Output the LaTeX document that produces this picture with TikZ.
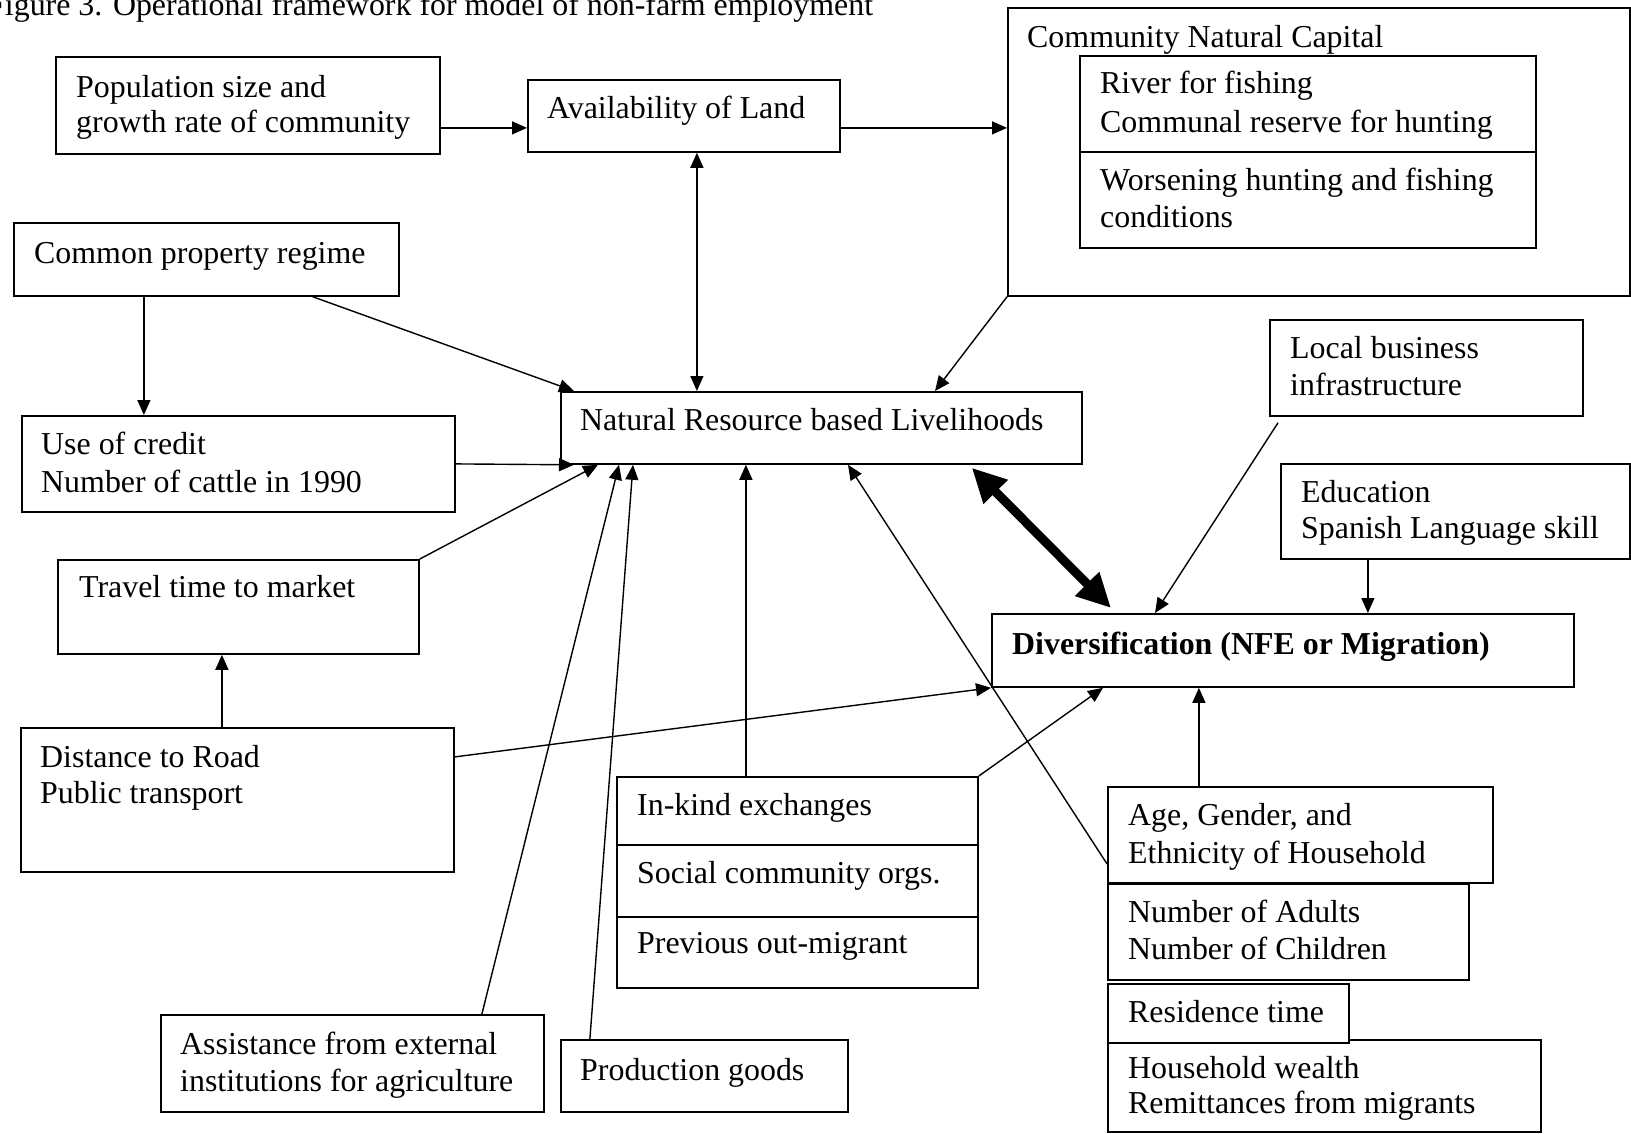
\documentclass[tikz,border=0pt]{standalone}
\usepackage{fontspec}
\setmainfont{Liberation Serif}
\usetikzlibrary{arrows.meta}
\newcommand\myst{\rule{0pt}{25pt}}
\begin{document}
\begin{tikzpicture}[x=1pt,y=-1pt,
  box/.style={draw, line width=1.8pt, anchor=north west, inner sep=0pt, fill=white},
  txt/.style={anchor=north west, inner sep=0pt, align=left, font=\fontsize{31.9}{37}\selectfont},
  arr/.style={line width=1.4pt, -{Triangle[length=15pt,width=13pt]}},
  arrb/.style={line width=1.4pt, {Triangle[length=15pt,width=13pt]}-{Triangle[length=15pt,width=13pt]}},
  thick2/.style={line width=9pt, {Triangle[length=34pt,width=32pt]}-{Triangle[length=34pt,width=32pt]}}]
\useasboundingbox (0,0) rectangle (1631,1133);
\clip (0,0) rectangle (1631,1133);

\node[anchor=base west, inner sep=0pt, font=\fontsize{31.9}{37}\selectfont] (title) at (-13,15) {Figure 3. Operational framework for model of non-farm employment};

% boxes
\node[box, minimum width=384pt, minimum height=97pt] (pop) at (55,56) {};
\node[box, minimum width=312pt, minimum height=72pt] (avail) at (527,79) {};
\node[box, minimum width=622pt, minimum height=288pt] (cnc) at (1007,7) {};
\node[box, minimum width=456pt, minimum height=96pt] (river) at (1079,55) {};
\node[box, minimum width=456pt, minimum height=96pt] (worsen) at (1079,151) {};
\node[box, minimum width=385pt, minimum height=73pt] (common) at (13,222) {};
\node[box, minimum width=433pt, minimum height=96pt] (credit) at (21,415) {};
\node[box, minimum width=521pt, minimum height=72pt] (nr) at (560,391) {};
\node[box, minimum width=361pt, minimum height=94pt] (travel) at (57,559) {};
\node[box, minimum width=313pt, minimum height=96pt] (local) at (1269,319) {};
\node[box, minimum width=349pt, minimum height=95pt] (edu) at (1280,463) {};
\node[box, minimum width=582pt, minimum height=73pt] (div) at (991,613) {};
\node[box, minimum width=433pt, minimum height=144pt] (dist) at (20,727) {};
\node[box, minimum width=361pt, minimum height=68pt] (inkind) at (616,776) {};
\node[box, minimum width=361pt, minimum height=72pt] (social) at (616,844) {};
\node[box, minimum width=361pt, minimum height=71pt] (prev) at (616,916) {};
\node[box, minimum width=385pt, minimum height=96pt] (age) at (1107,786) {};
\node[box, minimum width=361pt, minimum height=96pt] (number) at (1107,883) {};
\node[box, minimum width=433pt, minimum height=92pt] (house) at (1107,1039) {};
\node[box, minimum width=241pt, minimum height=59pt] (resid) at (1107,983) {};
\node[box, minimum width=383pt, minimum height=97pt] (assist) at (160,1014) {};
\node[box, minimum width=287pt, minimum height=72pt] (prod) at (560,1039) {};

% texts
\node[txt] (tpop) at (76,72) {\myst Population size and\\[-2pt]growth rate of community};
\node[txt] (tavail) at (547,93) {\myst Availability of Land};
\node[txt] (tcnc) at (1027,22) {\myst Community Natural Capital};
\node[txt] (triver) at (1100,68) {\myst River for fishing\\[2pt]Communal reserve for hunting};
\node[txt] (tworsen) at (1100,165) {\myst Worsening hunting and fishing\\conditions};
\node[txt] (tcommon) at (34,238) {\myst Common property regime};
\node[txt] (tcredit) at (41,429) {\myst Use of credit\\[1pt]Number of cattle in 1990};
\node[txt] (tnr) at (580,405) {\myst Natural Resource based Livelihoods};
\node[txt] (ttravel) at (79,572) {\myst Travel time to market};
\node[txt] (tlocal) at (1290,333) {\myst Local business\\infrastructure};
\node[txt] (tedu) at (1301,477) {\myst Education\\[-1pt]Spanish Language skill};
\node[txt] (tdiv) at (1012,629) {\myst\bfseries Diversification (NFE or Migration)};
\node[txt] (tdist) at (40,742) {\myst Distance to Road\\[-1pt]Public transport};
\node[txt] (tinkind) at (637,790) {\myst In-kind exchanges};
\node[txt] (tsocial) at (637,858) {\myst Social community orgs.};
\node[txt] (tprev) at (637,928) {\myst Previous out-migrant};
\node[txt] (tage) at (1128,800) {\myst Age, Gender, and\\[1pt]Ethnicity of Household};
\node[txt] (tnumber) at (1128,897) {\myst Number of Adults\\Number of Children};
\node[txt] (tresid) at (1128,997) {\myst Residence time};
\node[txt] (thouse) at (1128,1053) {\myst Household wealth\\[-2pt]Remittances from migrants};
\node[txt] (tassist) at (180,1029) {\myst Assistance from external\\institutions for agriculture};
\node[txt] (tprod) at (580,1055) {\myst Production goods};

% connectors
\draw[arr] ([yshift=-22.5pt]pop.east) -- ([yshift=-12pt]avail.west);
\draw[arr] ([yshift=-12pt]avail.east) -- ([yshift=24pt]cnc.west);
\draw[arrb] ([xshift=13pt]avail.south) -- ([xshift=-124.5pt]nr.north);
\draw[arr] ([xshift=-62.5pt]common.south) -- ([xshift=-94.5pt]credit.north);
\draw[arr] ([xshift=106.5pt]common.south) -- ([xshift=14pt]nr.north west);
\draw[arr] (credit.east) -- ([xshift=14pt]nr.south west);
\draw[arr] (travel.north east) -- ([xshift=38pt]nr.south west);
\draw[arr] ([xshift=-15.5pt]dist.north) -- ([xshift=-16.5pt]travel.south);
\draw[arr] ([yshift=43pt]dist.east) -- (div.south west);
\draw[arr] ([xshift=129.5pt]assist.north) -- ([xshift=59pt]nr.south west);
\draw[arr] ([xshift=-114.5pt]prod.north) -- ([xshift=73pt]nr.south west);
\draw[arr] ([xshift=-51.5pt]inkind.north) -- ([xshift=-75.5pt]nr.south);
\draw[arr] (inkind.north east) -- ([xshift=112pt]div.south west);
\draw[arr] ([yshift=-29pt]age.west) -- ([xshift=288pt]nr.south west);
\draw[arr] ([xshift=-101.5pt]age.north) -- ([xshift=-84pt]div.south);
\draw[arr] ([xshift=9pt,yshift=-6pt]local.south west) -- ([xshift=164pt]div.north west);
\draw[arr] ([xshift=-87.5pt]edu.south) -- ([xshift=85pt]div.north);
\draw[arr] (cnc.south west) -- ([xshift=375pt]nr.north west);
\draw[thick2] ([xshift=-111pt,yshift=-3pt]nr.south east) -- ([xshift=120pt,yshift=5pt]div.north west);
\end{tikzpicture}
\end{document}
